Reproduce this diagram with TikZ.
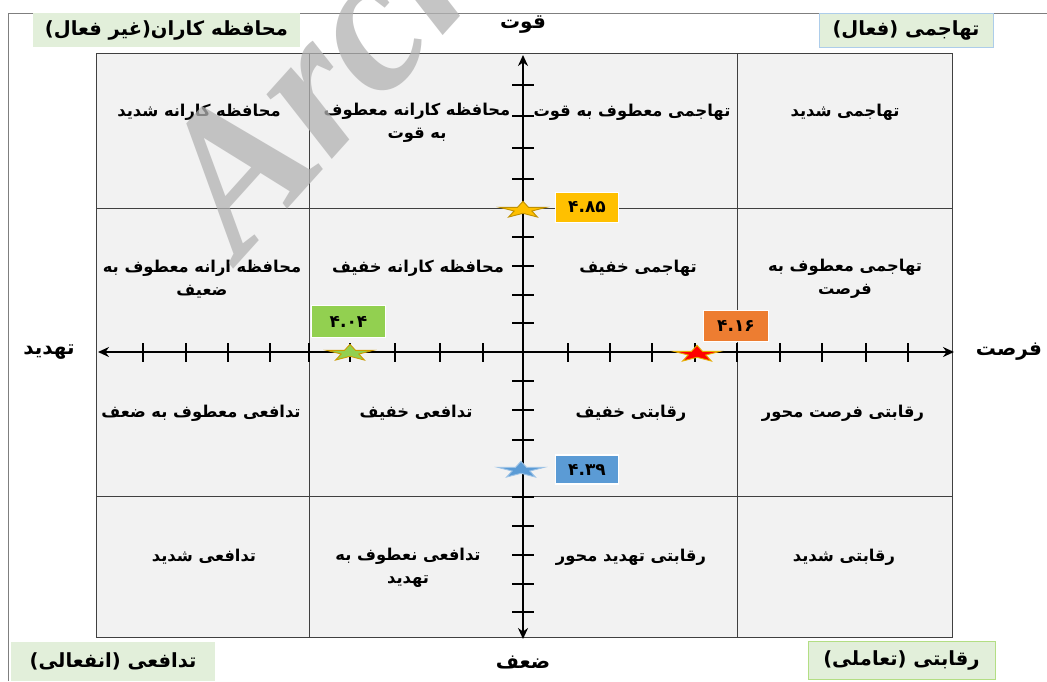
\documentclass[tikz,border=0pt]{standalone}
\usepackage{fontspec}
\usetikzlibrary{arrows.meta}
\TeXXeTstate=1
\newfontfamily\arfont[Script=Arabic]{DejaVu Sans}
\newfontfamily\wmfont{Liberation Serif}
\newcommand\fa[1]{{\arfont\bfseries\beginR #1\endR}}
\definecolor{cellc}{HTML}{F2F2F2}
\definecolor{gridc}{HTML}{404040}
\definecolor{framec}{HTML}{7F7F7F}
\definecolor{lblc}{HTML}{E2EFDA}
\definecolor{yelc}{HTML}{FFC000}
\definecolor{grnc}{HTML}{92D050}
\definecolor{bluc}{HTML}{5B9BD5}
\definecolor{orgc}{HTML}{ED7D31}
\tikzset{
  cell/.style={align=center, font=\fontsize{16.3}{23}\selectfont, inner sep=0pt},
  corner/.style={fill=lblc, inner sep=0pt, font=\fontsize{19.5}{22}\selectfont},
  axlabel/.style={font=\fontsize{20}{22}\selectfont, inner sep=0pt},
  valbox/.style={draw=white, line width=1.5pt, inner sep=0pt, font=\fontsize{17}{19}\selectfont},
  axisline/.style={line width=2.6pt, black},
  tick/.style={line width=2.4pt, black},
  pics/mystar/.style args={#1/#2}{code={
    \filldraw[fill=#1, draw=#2, line width=0.9pt, xscale=24.5, yscale=-8.7]
      (90:1)--(126:0.38)--(162:1)--(198:0.38)--(234:1)--(270:0.38)--(306:1)--(342:0.38)--(18:1)--(54:0.38)--cycle;}}
}
\begin{document}
\begin{tikzpicture}[x=1pt,y=-1pt]
\useasboundingbox (0,0) rectangle (1047,681);
\fill[white] (0,0) rectangle (1047,681);
% outer frame
\draw[framec, line width=0.8pt] (8,681) -- (8,13) -- (1047,13);
% grid
\fill[cellc] (96,53) rectangle (952,637);
\draw[gridc, line width=1pt] (96,53) rectangle (952,637);
\foreach \x in {309,737} \draw[gridc, line width=1pt] (\x,53) -- (\x,637);
\foreach \y in {208,496} \draw[gridc, line width=1pt] (96,\y) -- (952,\y);
% corner labels
\node[corner, minimum width=267, minimum height=34] (tl) at (166.5,30) {\fa{محافظه کاران(غیر فعال)}};
\node[corner, draw=bluc!50, line width=0.8pt, minimum width=174, minimum height=34] (tr) at (906,30) {\fa{تهاجمی (فعال)}};
\node[corner, minimum width=204, minimum height=39] (bl) at (113,661.5) {\fa{تدافعی (انفعالی)}};
\node[corner, draw=grnc!70, line width=0.8pt, minimum width=187, minimum height=38] (br) at (901.5,660) {\fa{رقابتی (تعاملی)}};
% axis labels
\node[axlabel] (top) at (523,25) {\fa{قوت}};
\node[axlabel] (bot) at (523,663) {\fa{ضعف}};
\node[axlabel] (lft) at (49,352) {\fa{تهدید}};
\node[axlabel] (rgt) at (1009,352) {\fa{فرصت}};
% axes
\coordinate (L) at (98,352);
\coordinate (R) at (954,352);
\coordinate (T) at (523,55);
\coordinate (B) at (523,639);
\draw[axisline, {Stealth[length=11pt,width=10pt]}-{Stealth[length=11pt,width=10pt]}] (L) -- (R);
\draw[axisline, {Stealth[length=11pt,width=10pt]}-{Stealth[length=11pt,width=10pt]}] (T) -- (B);
\foreach \x in {143,186,228,270,309,350,395,440,483,568,610,652,695,737,780,822,866,908}
  \draw[tick] (\x,343) -- (\x,362);
\foreach \y in {85,116,148,179,208,237,266,295,323,381,410,440,469,497,526,555,584,612}
  \draw[tick] (512,\y) -- (534,\y);
% cell texts
\node[cell] (c11) at (199,112) {\fa{محافظه کارانه شدید}};
\node[cell] (c12) at (417,123) {\fa{محافظه کارانه معطوف}\\\fa{به قوت}};
\node[cell] (c13) at (632,112) {\fa{تهاجمی معطوف به قوت}};
\node[cell] (c14) at (845,112) {\fa{تهاجمی شدید}};
\node[cell] (c21) at (202,279) {\fa{محافظه ارانه معطوف به}\\\fa{ضعیف}};
\node[cell] (c22) at (418,268) {\fa{محافظه کارانه خفیف}};
\node[cell] (c23) at (638,268) {\fa{تهاجمی خفیف}};
\node[cell] (c24) at (845,279) {\fa{تهاجمی معطوف به}\\\fa{فرصت}};
\node[cell] (c31) at (201,413) {\fa{تدافعی معطوف به ضعف}};
\node[cell] (c32) at (416,413) {\fa{تدافعی خفیف}};
\node[cell] (c33) at (631,413) {\fa{رقابتی خفیف}};
\node[cell] (c34) at (843,413) {\fa{رقابتی فرصت محور}};
\node[cell] (c41) at (204,557) {\fa{تدافعی شدید}};
\node[cell] (c42) at (408,568) {\fa{تدافعی نعطوف به}\\\fa{تهدید}};
\node[cell] (c43) at (631,557) {\fa{رقابتی تهدید محور}};
\node[cell] (c44) at (844,557) {\fa{رقابتی شدید}};
% stars
\pic (s1) at (523,210) {mystar={yelc/yelc!75!black}};
\pic (s2) at (350,353) {mystar={grnc/yelc!80!black}};
\pic (s3) at (521,470) {mystar={bluc/bluc!60}};
\pic (s4) at (697,354) {mystar={red/yelc!90!black}};
% value boxes
\node[valbox, fill=yelc, minimum width=63, minimum height=30] (v1) at (587,207.5) {\arfont\bfseries ۴.۸۵};
\node[valbox, fill=grnc, minimum width=74, minimum height=32] (v2) at (348.5,321.5) {\arfont\bfseries ۴.۰۴};
\node[valbox, fill=bluc, minimum width=63, minimum height=29] (v3) at (587,469.5) {\arfont\bfseries ۴.۳۹};
\node[valbox, fill=orgc, minimum width=65, minimum height=31] (v4) at (736,326) {\arfont\bfseries ۴.۱۶};
% watermark
\begin{scope}
\clip (0,0) rectangle (1047,681);
\node[rotate=48, anchor=base west, inner sep=0pt, text=black!30, opacity=0.75,
      font=\wmfont\bfseries\itshape\fontsize{200}{200}\selectfont] (wm) at (240,262) {Archive of SID};
\end{scope}
\end{tikzpicture}
\end{document}
